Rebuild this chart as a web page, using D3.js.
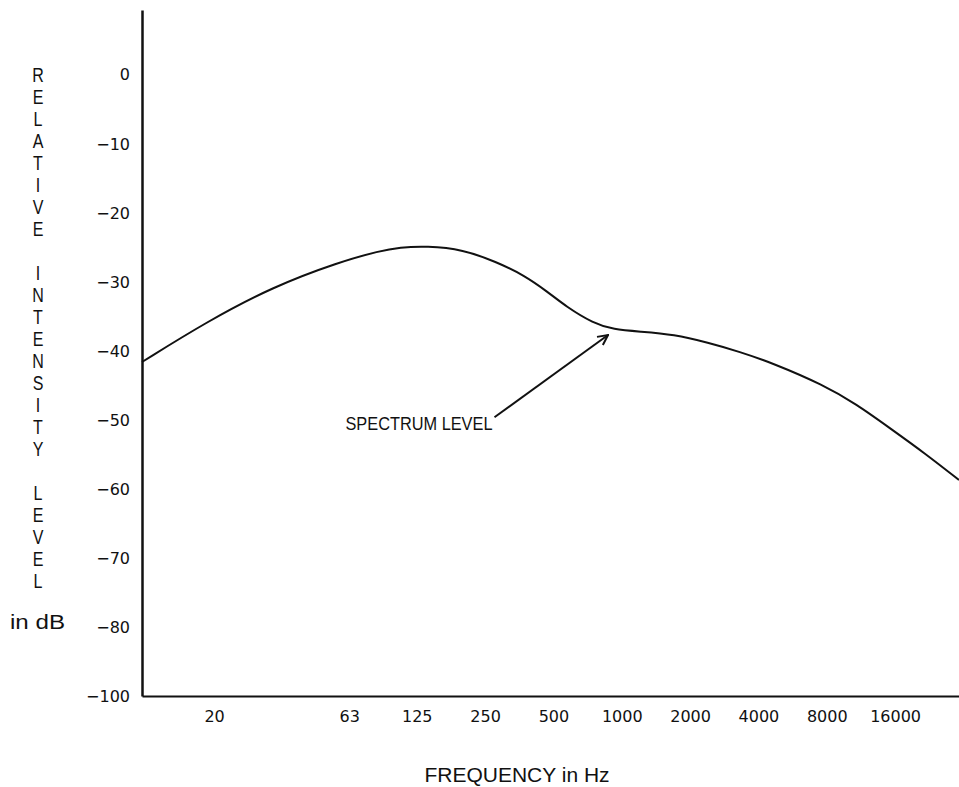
<!DOCTYPE html>
<html>
<head>
<meta charset="utf-8">
<script src="https://cdn.jsdelivr.net/npm/d3@7"></script>
<style>
  body { margin: 0; background: #fff; }
  text { fill: #111; }
</style>
</head>
<body>
<div class="container"></div>
<script>
// data
const freqs = [7.7, 14.8, 29, 57, 86, 105, 138, 200, 280, 370, 470, 570, 750, 920, 1200, 1700, 2400, 3300, 4650, 7700, 10800, 15200, 21600, 30600];
const levels = [-41.6, -35.8, -30.7, -27.1, -25.5, -25.0, -24.8, -25.3, -27.1, -29.0, -31.4, -33.6, -36.0, -36.9, -37.2, -37.6, -38.8, -40.1, -41.8, -44.9, -47.7, -51.2, -54.8, -58.7];

// x labels sit on octave band positions (the "20" label sits where 16 Hz would be)
const tickFreqs = [16, 63, 125, 250, 500, 1000, 2000, 4000, 8000, 16000];
const tickLabels = ['20', '63', '125', '250', '500', '1000', '2000', '4000', '8000', '16000'];
const yTicks = [0, -10, -20, -30, -40, -50, -60, -70, -80, -100];

const yTitle = 'RELATIVE INTENSITY LEVEL';
const note = {text: 'SPECTRUM LEVEL', fromF: 275, fromDb: -49.6, toF: 870, toDb: -37.7};

const sans = '"Liberation Sans", Arial, sans-serif';
const wide = '"DejaVu Sans", sans-serif';

// setup
const w = 959;
const h = 787;

const svg = d3.select('.container')
              .append('svg')
              .attr('width', w)
              .attr('height', h)
              .style('font-family', sans);

const x = d3.scaleLog()
            .domain([7.7, 30600])
            .range([142, 959]);

// axis is broken at the bottom: -90 is skipped
const y = d3.scaleLinear()
            .domain([9.4, -80, -100])
            .range([10, 627, 696]);

// axis
const xAxis = d3.axisBottom(x)
                .tickValues(tickFreqs)
                .tickFormat((d, i) => tickLabels[i])
                .tickSize(0)
                .tickPadding(15);
const yAxis = d3.axisLeft(y)
                .tickValues(yTicks)
                .tickFormat(d3.format('d'))
                .tickSize(0)
                .tickPadding(12);

const xGroup = svg.append('g')
                  .attr('transform', `translate(0, ${y(-100)})`)
                  .call(xAxis);
const yGroup = svg.append('g')
                  .attr('transform', `translate(${x.range()[0]}, 0)`)
                  .call(yAxis);

xGroup.select('.domain').attr('stroke', '#111').attr('stroke-width', 2);
yGroup.select('.domain').attr('stroke', '#111').attr('stroke-width', 2.5);

// tick labels: wide plotter-like font
[xGroup, yGroup].forEach(g => {
    g.attr('font-family', null);
    g.selectAll('text')
     .style('font-family', wide)
     .attr('font-size', 16)
     .attr('fill', '#111');
});

// curve
const line = d3.line()
               .x((d, i) => x(freqs[i]))
               .y(d => y(d))
               .curve(d3.curveBasis);

svg.append('path')
   .datum(levels)
   .attr('d', line)
   .attr('fill', 'none')
   .attr('stroke', '#111')
   .attr('stroke-width', 2);

// annotation with arrow
svg.append('defs')
   .append('marker')
   .attr('id', 'arrow')
   .attr('viewBox', '0 0 12 12')
   .attr('refX', 11)
   .attr('refY', 6)
   .attr('markerWidth', 12)
   .attr('markerHeight', 12)
   .attr('markerUnits', 'userSpaceOnUse')
   .attr('orient', 'auto')
   .append('path')
   .attr('d', 'M1,1 L11,6 L1,11')
   .attr('fill', 'none')
   .attr('stroke', '#111')
   .attr('stroke-width', 2);

svg.append('line')
   .attr('x1', x(note.fromF))
   .attr('y1', y(note.fromDb))
   .attr('x2', x(note.toF))
   .attr('y2', y(note.toDb))
   .attr('stroke', '#111')
   .attr('stroke-width', 2)
   .attr('marker-end', 'url(#arrow)');

svg.append('text')
   .attr('x', x(note.fromF) - 2)
   .attr('y', y(note.fromDb) + 13)
   .attr('text-anchor', 'end')
   .attr('font-size', 18)
   .attr('textLength', 147)
   .attr('lengthAdjust', 'spacingAndGlyphs')
   .text(note.text);

// y title, one letter per line
svg.append('g')
   .selectAll('text')
   .data(yTitle.split(''))
   .join('text')
   .attr('x', 38)
   .attr('y', (d, i) => 75 + 22 * i)
   .attr('dy', '0.35em')
   .attr('text-anchor', 'middle')
   .attr('font-size', 20)
   .attr('transform', (d, i) => `translate(38, ${75 + 22 * i}) scale(0.8, 1) translate(-38, ${-(75 + 22 * i)})`)
   .text(d => d);

svg.append('text')
   .attr('x', 10)
   .attr('y', 622)
   .attr('dy', '0.35em')
   .attr('font-size', 20)
   .attr('textLength', 55)
   .attr('lengthAdjust', 'spacingAndGlyphs')
   .text('in dB');

svg.append('text')
   .attr('x', 517)
   .attr('y', 775)
   .attr('dy', '0.35em')
   .attr('text-anchor', 'middle')
   .attr('font-size', 21)
   .text('FREQUENCY in Hz');
</script>
</body>
</html>
